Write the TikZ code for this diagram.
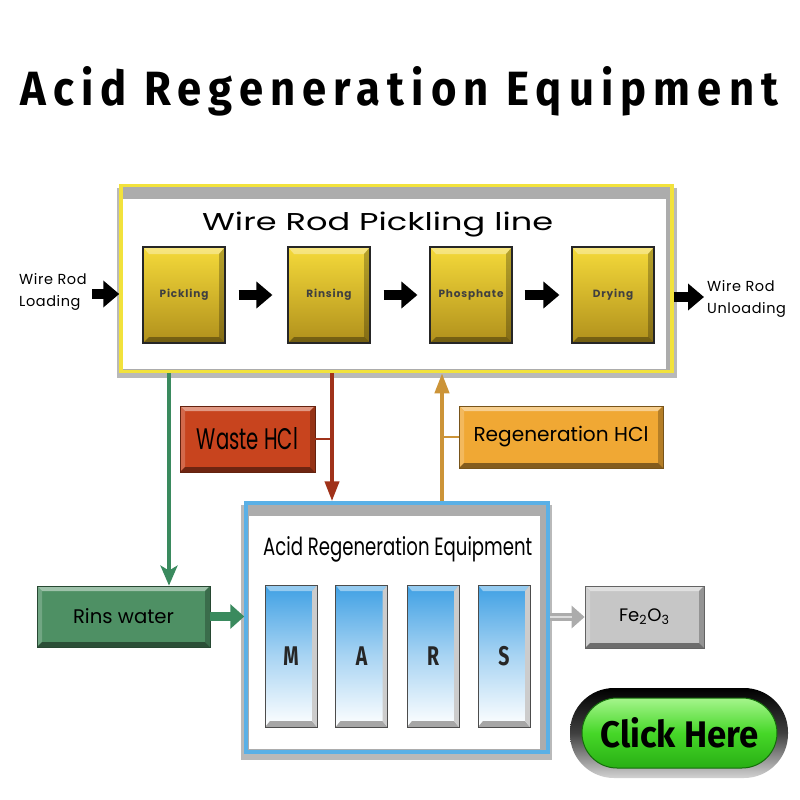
\documentclass[tikz,border=0pt]{standalone}
\usepackage{fontspec}
\setmainfont{Poppins}
\newfontfamily\condfont[FakeStretch=0.72]{Fira Sans}
\newfontfamily\titlefont[FakeStretch=0.55,LetterSpace=9]{Fira Sans}
\newfontfamily\smallfont[LetterSpace=8]{Poppins}
\newfontfamily\lblfont[LetterSpace=4]{Poppins}
\usetikzlibrary{arrows.meta,shapes.misc}
\definecolor{yelTop}{HTML}{F5DA3A}
\definecolor{yelBot}{HTML}{B0901C}
\definecolor{frameYellow}{HTML}{F2E23C}
\definecolor{blueFrame}{HTML}{5AB0E6}
\definecolor{wasteRed}{HTML}{C8441E}
\definecolor{regenOr}{HTML}{F0A834}
\definecolor{rinsGreen}{HTML}{4E9064}
\definecolor{greenLine}{HTML}{3A8A5E}
\definecolor{redLine}{HTML}{A0321A}
\definecolor{orLine}{HTML}{CC9438}
\definecolor{colBlue}{HTML}{3FA0E4}
\definecolor{feGray}{HTML}{C6C6C6}
\newcommand\bevelpic[1]{%
  \coordinate (bNW) at (path picture bounding box.north west);
  \coordinate (bNE) at (path picture bounding box.north east);
  \coordinate (bSW) at (path picture bounding box.south west);
  \coordinate (bSE) at (path picture bounding box.south east);
  \coordinate (iNW) at ([shift={(5pt,-5pt)}]bNW);
  \coordinate (iNE) at ([shift={(-5pt,-5pt)}]bNE);
  \coordinate (iSW) at ([shift={(5pt,5pt)}]bSW);
  \coordinate (iSE) at ([shift={(-5pt,5pt)}]bSE);
  \fill[#1!55!white] (bNW)--(bNE)--(iNE)--(iNW)--cycle;
  \fill[#1!80!white] (bNW)--(iNW)--(iSW)--(bSW)--cycle;
  \fill[#1!75!black] (bNE)--(bSE)--(iSE)--(iNE)--cycle;
  \fill[#1!55!black] (bSW)--(iSW)--(iSE)--(bSE)--cycle;
}
\tikzset{
  bevel/.style={fill=#1, draw=#1!50!black, line width=0.8pt, inner sep=0pt,
    path picture={\bevelpic{#1}}},
  ybox/.style={draw=black!85, line width=1.2pt, top color=yelTop, bottom color=yelBot,
    minimum width=82pt, minimum height=96pt, inner sep=0pt,
    font=\smallfont\bfseries\fontsize{10.5}{11}\selectfont, text=black!75,
    path picture={
      \fill[white, opacity=0.35] (path picture bounding box.north west) -- (path picture bounding box.north east)
        -- ([shift={(-6pt,-7pt)}]path picture bounding box.north east) -- ([shift={(6pt,-7pt)}]path picture bounding box.north west) -- cycle;
      \fill[black, opacity=0.25] (path picture bounding box.north east) -- (path picture bounding box.south east)
        -- ([shift={(-6pt,6pt)}]path picture bounding box.south east) -- ([shift={(-6pt,-7pt)}]path picture bounding box.north east) -- cycle;
      \fill[black, opacity=0.35] (path picture bounding box.south west) -- (path picture bounding box.south east)
        -- ([shift={(-6pt,6pt)}]path picture bounding box.south east) -- ([shift={(6pt,6pt)}]path picture bounding box.south west) -- cycle;
    }},
  col/.style={draw=black!70, line width=1pt, top color=colBlue, bottom color=white,
    middle color=colBlue!45!white, minimum width=52pt, minimum height=142pt, inner sep=0pt,
    font=\condfont\bfseries\fontsize{27}{27}\selectfont, text=black!85,
    path picture={
      \fill[colBlue!55!white] (path picture bounding box.north west) -- (path picture bounding box.north east)
        -- ([shift={(-5pt,-6pt)}]path picture bounding box.north east) -- ([shift={(5pt,-6pt)}]path picture bounding box.north west) -- cycle;
      \fill[gray!70] (path picture bounding box.south west) -- (path picture bounding box.south east)
        -- ([shift={(-5pt,6pt)}]path picture bounding box.south east) -- ([shift={(5pt,6pt)}]path picture bounding box.south west) -- cycle;
      \fill[gray!40] (path picture bounding box.north east) -- (path picture bounding box.south east)
        -- ([shift={(-5pt,6pt)}]path picture bounding box.south east) -- ([shift={(-5pt,-6pt)}]path picture bounding box.north east) -- cycle;
    }},
  blk/.style={line width=10pt, black, -{Triangle[length=16pt,width=26pt]}},
  lbl/.style={font=\lblfont\fontsize{14.5}{22}\selectfont, inner sep=0pt, align=left},
  arrG/.style={draw=greenLine, line width=3.6pt, -{Stealth[length=20pt,width=17pt,inset=5pt]}},
  arrR/.style={draw=redLine, line width=4pt, -{Triangle[length=20pt,width=14pt]}},
  arrO/.style={draw=orLine, line width=4pt, -{Triangle[length=20pt,width=14pt]}},
}
\begin{document}
\begin{tikzpicture}[x=1pt,y=-1pt]
\useasboundingbox[fill=white] (0,0) rectangle (800,800);

% title
\node[anchor=base west, inner sep=0pt] (title) at (20,105)
  {\resizebox{758pt}{39pt}{\titlefont\bfseries Acid Regeneration Equipment}};

% pickling line frame
\fill[gray!55] (117,188) rectangle (677,378);
\node[draw=frameYellow, line width=3.5pt, fill=gray!65, minimum width=551pt, minimum height=186pt, inner sep=0pt] (line) at (396.5,278.5) {};
\fill[white] (123,199) rectangle (666,369);
\node[anchor=base west, inner sep=0pt] (linetitle) at (202,230)
  {\resizebox{351pt}{18.5pt}{Wire Rod Pickling line}};

\node[ybox] (pick) at (184,295) {Pickling};
\node[ybox] (rins) at (329,295) {Rinsing};
\node[ybox] (phos) at (471,295) {Phosphate};
\node[ybox] (dry)  at (613,295) {Drying};

\draw[blk, shorten <=13pt, shorten >=15pt] (pick) -- (rins);
\draw[blk, shorten <=13pt, shorten >=12pt] (rins) -- (phos);
\draw[blk, shorten <=12pt, shorten >=12pt] (phos) -- (dry);

\coordinate (lin) at (92,294);
\coordinate (lout) at (704,297);
\draw[blk] (lin) -- (lin -| line.west);
\draw[blk] (lout -| line.east) -- (lout);
\node[lbl, anchor=west] (loadtxt) at (19,292) {Wire Rod\\Loading};
\node[lbl, anchor=west] (unloadtxt) at (707,299) {Wire Rod\\Unloading};

% acid regeneration frame
\fill[gray!55] (241,505) rectangle (552,760);
\node[draw=blueFrame, line width=3.5pt, fill=gray!65, minimum width=302pt, minimum height=249pt, inner sep=0pt] (acid) at (397,627.5) {};
\fill[white] (249,516) rectangle (540,749);
\node[anchor=base west, inner sep=0pt] (acidtitle) at (263,555)
  {\resizebox{269pt}{19pt}{Acid Regeneration Equipment}};

\node[col] (M) at (291,656) {M};
\node[col] (A) at (361.5,656) {A};
\node[col] (R) at (433,656) {R};
\node[col] (S) at (504,656) {S};

% side boxes
\node[bevel=wasteRed, minimum width=135pt, minimum height=66pt] (waste) at (247.5,439)
  {\resizebox{101pt}{22pt}{Waste HCl}};
\node[bevel=regenOr, minimum width=204pt, minimum height=62pt] (regen) at (561,437)
  {\resizebox{175pt}{!}{Regeneration HCl}};
\node[bevel=rinsGreen, minimum width=173pt, minimum height=61pt] (rinsw) at (123.5,616.5)
  {\resizebox{101pt}{!}{Rins water}};
\node[bevel=feGray, minimum width=119pt, minimum height=62pt] (fe) at (644.5,617)
  {\resizebox{51pt}{!}{Fe\textsubscript{2}O\textsubscript{3}}};

% flows
\coordinate (gx) at (169,0);
\coordinate (rx) at (332,0);
\coordinate (ox) at (442,0);
\draw[arrG] (line.south -| gx) -- (rinsw.north -| gx);
\draw[arrR] (line.south -| rx) -- (acid.north -| rx);
\draw[arrO] (acid.north -| ox) -- (line.south -| ox);
\draw[redLine, line width=2pt] (waste.east) -- (waste.east -| rx);
\draw[orLine, line width=2pt] (regen.west) -- (regen.west -| ox);

\draw[greenLine, line width=9pt, -{Triangle[length=14pt,width=24pt]}] (rinsw.east) -- (acid.west |- rinsw.east);
\draw[gray!65, line width=8pt, -{Triangle[length=13pt,width=22pt]}] (acid.east |- fe.west) -- (fe.west);
\draw[white, line width=2pt, opacity=0.6, shorten >=13pt] (acid.east |- fe.west) -- (fe.west);

% click here button
\path[top color=black, bottom color=gray!35, middle color=black!75, rounded corners=44pt] (570,688) rectangle (788,778);
\node[rounded rectangle, draw={rgb,255:red,20;green,110;blue,10}, line width=1pt, minimum width=195pt, minimum height=70pt,
  top color={rgb,255:red,165;green,245;blue,140}, bottom color={rgb,255:red,40;green,175;blue,20},
  middle color={rgb,255:red,70;green,215;blue,40}, inner sep=0pt] (click) at (679.5,733)
  {\resizebox{158pt}{30pt}{\condfont\bfseries Click Here}};
\end{tikzpicture}
\end{document}
